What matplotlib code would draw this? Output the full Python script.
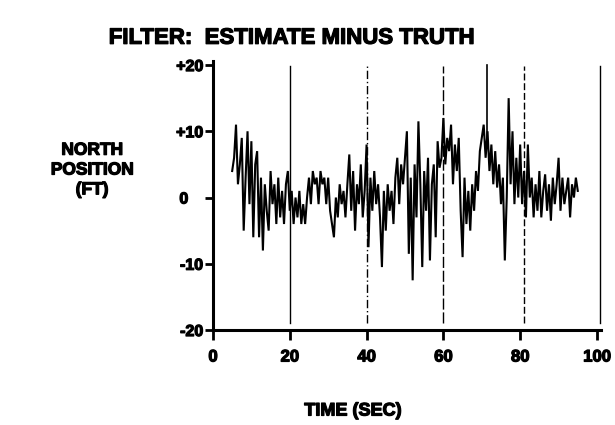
import matplotlib
matplotlib.use("Agg")
import matplotlib.pyplot as plt
import matplotlib.transforms as mtransforms
import matplotlib.patheffects as pe
import numpy as np

# ---- data ----
t_start = 5.0
t_step = 0.5
north_err = [
    4, 6, 11, 2, 5, 9, -5, 3, 10, -1,
    8.5, -6, 5, 7, -6, 3, -8, 2, -2, -5,
    4, -1, 2, -4, 3, -3, 1, -4, 2, 4,
    -2, 1, -4, 0, -3, 1, -4, -1, -4, 0,
    3, -1, 4, 2, 3, -1, 4, 2, 3, -1,
    3, -2, -4, -6, 0, -3, 2, -1, 1, -3,
    2, 6.5, -2, 4, -5, 2, -1, 5, -3, 1,
    8, -7.5, 3, -2, 4, -1, 2, -3, -10.5, 1,
    -5, 2, -2, 1, -4, 3, 6, -1, 5, 2,
    6, 10, -8.5, 3, -12.5, 5, -3, 11.5, 2, -10.5,
    4, -2, 6, -9.5, 2, 5, -6, 8.5, 4.5, 6,
    12, 5, 9, 7, 11, 2, 8, 4, 9, -2,
    -9, 3, -4, 1, -5, 2, -2, 4, 1, 7,
    9, 11, 6, 10, 4, 8, 2, 7, 1.5, 5,
    -1, 3, -9.5, 0, 15, 2, 10, -1, 6, 0,
    8, -1, 4, -3, 8, 0, 3, -3, 2, -2,
    4, -3, 1, 3.5, -2, 2, -3.5, 3, -1, 2,
    6, -2, 3, -1, 1, 3, -3, 2, 0, 3,
    1,
]
time = t_start + t_step * np.arange(len(north_err))

x_ticks = [0, 20, 40, 60, 80, 100]
x_ticklabels = ["0", "20", "40", "60", "80", "100"]
y_ticks = [-20, -10, 0, 10, 20]
y_ticklabels = ["-20", "-10", "0", "+10", "+20"]

marker_times = [20, 40, 60, 81, 100.8]
marker_styles = ["-", (0, (6, 2, 1, 2)), (0, (8, 2)), (0, (5, 2)), "-"]
spike_time = 71.3
spike_range = [9, 20]

title = "FILTER:  ESTIMATE MINUS TRUTH"
ylabel = "NORTH\nPOSITION\n(FT)"
xlabel = "TIME (SEC)"

# ---- figure ----
plt.rcParams["font.family"] = ["Liberation Sans", "DejaVu Sans"]
heavy = [pe.withStroke(linewidth=0.9, foreground="black")]

fig = plt.figure(figsize=(6.15, 4.25), dpi=100)
ax = fig.add_axes([0.3463, 0.2235, 0.6244, 0.6235])

for mt, ms in zip(marker_times, marker_styles):
    ax.plot([mt, mt], [-19.0, 19.8], color="black", lw=1.0, ls=ms, clip_on=False)
ax.plot([spike_time, spike_time], spike_range, color="black", lw=1.2, clip_on=False)

ax.plot(time, north_err, color="black", lw=1.5, solid_joinstyle="miter")

ax.set_xlim(0, 100)
ax.set_ylim(-20, 20)
for s in ["top", "right"]:
    ax.spines[s].set_visible(False)
ax.spines["left"].set_linewidth(2.2)
ax.spines["bottom"].set_linewidth(2.2)
ax.spines["left"].set_bounds(-20, 20.6)
ax.spines["bottom"].set_bounds(0, 101)

ax.set_xticks(x_ticks)
ax.set_xticklabels(x_ticklabels)
ax.set_yticks(y_ticks)
ax.set_yticklabels(y_ticklabels)
ax.tick_params(axis="x", direction="out", length=7, width=2, pad=7, labelsize=12)
ax.tick_params(axis="y", direction="out", length=6, width=2, pad=1, labelsize=11.5)
for lab in ax.get_xticklabels() + ax.get_yticklabels():
    lab.set_fontweight("bold")
    lab.set_path_effects(heavy)
for lab in ax.get_yticklabels():
    if lab.get_text() == "0":
        lab.set_transform(lab.get_transform() +
                          mtransforms.ScaledTranslation(-0.15, 0, fig.dpi_scale_trans))

fig.text(0.475, 0.91, title, ha="center", va="center", fontsize=16,
         fontweight="bold", path_effects=heavy)
fig.text(0.15, 0.60, ylabel, ha="center", va="center", fontsize=12.5,
         fontweight="bold", linespacing=1.4, path_effects=heavy)
fig.text(0.574, 0.033, xlabel, ha="center", va="center", fontsize=13,
         fontweight="bold", path_effects=heavy)

fig.savefig("out.png", dpi=100)
